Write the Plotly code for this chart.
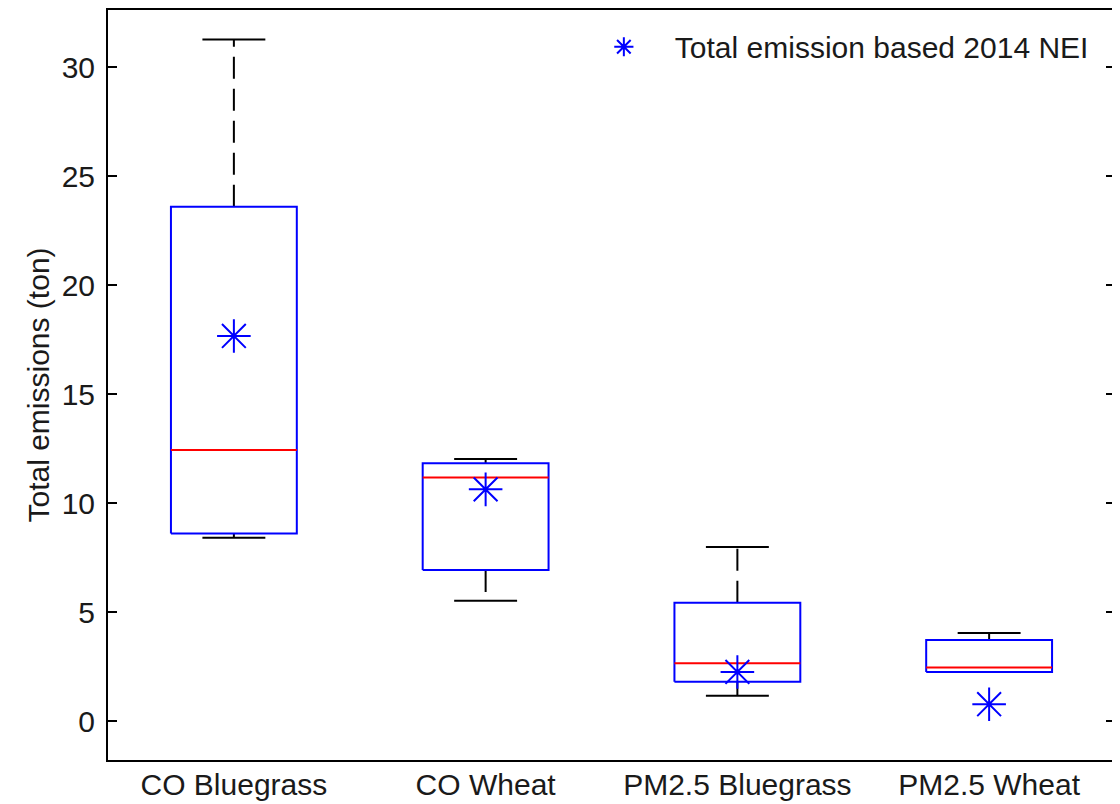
import plotly.graph_objects as go

# ---------------------------------------------------------------------------
# Data (tons)
# ---------------------------------------------------------------------------
categories = ["CO Bluegrass", "CO Wheat", "PM2.5 Bluegrass", "PM2.5 Wheat"]
whisker_low = [8.41, 5.52, 1.16, 2.25]
q1 = [8.61, 6.93, 1.80, 2.25]
median = [12.44, 11.17, 2.65, 2.46]
q3 = [23.60, 11.83, 5.43, 3.72]
whisker_high = [31.28, 12.02, 7.99, 4.04]
nei_2014 = [17.67, 10.63, 2.25, 0.77]

# ---------------------------------------------------------------------------
# Style tokens
# ---------------------------------------------------------------------------
_FONT = "Liberation Sans, Arial, sans-serif"
_TEXT = "#1a1a1a"
_BLUE = "#0000ff"
_RED = "#ff0000"
_BLACK = "#000000"
_HALF_BOX = 0.25
_HALF_CAP = 0.125

xs = list(range(1, len(categories) + 1))

# build polylines separated by None
box_x, box_y = [], []
med_x, med_y = [], []
cap_x, cap_y = [], []
wh_x, wh_y = [], []
for i, x in enumerate(xs):
    l, r = x - _HALF_BOX, x + _HALF_BOX
    box_x += [l, r, r, l, l, None]
    box_y += [q1[i], q1[i], q3[i], q3[i], q1[i], None]
    med_x += [l, r, None]
    med_y += [median[i], median[i], None]
    cap_x += [x - _HALF_CAP, x + _HALF_CAP, None, x - _HALF_CAP, x + _HALF_CAP, None]
    cap_y += [whisker_low[i], whisker_low[i], None, whisker_high[i], whisker_high[i], None]
    wh_x += [x, x, None, x, x, None]
    wh_y += [q3[i], whisker_high[i], None, q1[i], whisker_low[i], None]

fig = go.Figure()

fig.add_trace(go.Scatter(
    x=wh_x, y=wh_y, mode="lines", showlegend=False, hoverinfo="skip",
    line=dict(color=_BLACK, width=2, dash="22px,10px"),
))
fig.add_trace(go.Scatter(
    x=cap_x, y=cap_y, mode="lines", showlegend=False, hoverinfo="skip",
    line=dict(color=_BLACK, width=2),
))
fig.add_trace(go.Scatter(
    x=box_x, y=box_y, mode="lines", showlegend=False, hoverinfo="skip",
    line=dict(color=_BLUE, width=2),
))
fig.add_trace(go.Scatter(
    x=med_x, y=med_y, mode="lines", showlegend=False, hoverinfo="skip",
    line=dict(color=_RED, width=2),
))
fig.add_trace(go.Scatter(
    x=xs, y=nei_2014, mode="markers", name="Total emission based 2014 NEI",
    marker=dict(symbol="asterisk-open", size=28, color=_BLUE,
                line=dict(color=_BLUE, width=2)),
    hovertemplate="%{y:.2f} ton<extra></extra>",
))

# page body has an 8px margin, so the figure is sized to fit the window
fig.update_layout(
    width=1112,
    height=796,
    paper_bgcolor="white",
    plot_bgcolor="white",
    font=dict(family=_FONT, size=30, color=_TEXT),
    margin=dict(l=100, r=5, t=2, b=44),
    xaxis=dict(
        range=[0.5, 4.5],
        tickmode="array",
        tickvals=xs,
        ticktext=categories,
        ticks="",
        showgrid=False,
        zeroline=False,
        showline=True,
        linecolor=_BLACK,
        linewidth=2,
        mirror=True,
        automargin=False,
        ticklabelstandoff=-3,
        tickfont=dict(size=30, color=_TEXT),
    ),
    yaxis=dict(
        range=[-1.79, 32.63],
        tickmode="array",
        tickvals=[0, 5, 10, 15, 20, 25, 30],
        ticks="inside",
        ticklen=9,
        tickwidth=2,
        tickcolor=_BLACK,
        showgrid=False,
        zeroline=False,
        showline=True,
        linecolor=_BLACK,
        linewidth=2,
        mirror="ticks",
        automargin=False,
        ticklabelstandoff=5,
        tickfont=dict(size=30, color=_TEXT),
        title=dict(text="Total emissions (ton)", font=dict(size=30, color=_TEXT), standoff=3),
    ),
    legend=dict(
        x=0.979, y=0.951, xanchor="right", yanchor="middle",
        bgcolor="rgba(0,0,0,0)",
        font=dict(size=30, color=_TEXT),
        itemwidth=92,
    ),
)

fig.write_html("out.html")
